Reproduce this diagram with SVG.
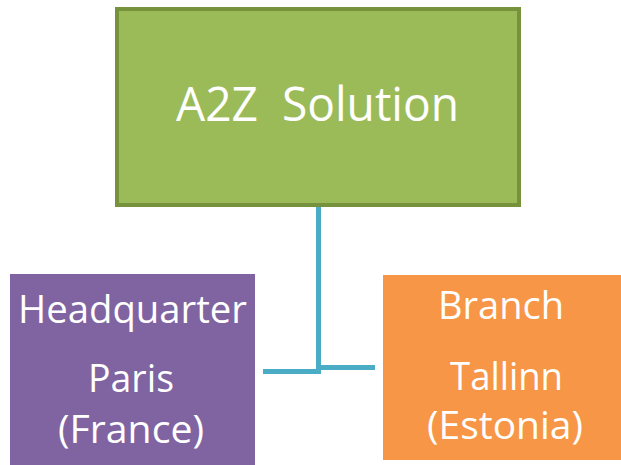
<svg xmlns="http://www.w3.org/2000/svg" width="621" height="465" viewBox="0 0 621 465">
  <style>
    .lbl { fill: #ffffff; font-family: "Open Sans", "Liberation Sans", sans-serif; text-anchor: middle; white-space: pre; }
    .big { font-size: 47px; }
    .mid { font-size: 37.5px; }
    .conn { stroke: #4BACC6; stroke-width: 5; fill: none; }
  </style>
  <rect width="621" height="465" fill="#ffffff"/>
  <!-- connectors -->
  <g id="connectors">
    <path class="conn" d="M318.5 207 V371.5 H263"/>
    <path class="conn" d="M318.5 367.5 H375"/>
  </g>
  <!-- top node -->
  <g id="a2z">
    <rect x="117" y="9" width="402" height="196" fill="#9BBB59" stroke="#76923C" stroke-width="4"/>
    <text class="lbl big" x="317.5" y="121" textLength="283" lengthAdjust="spacingAndGlyphs" xml:space="preserve">A2Z  Solution</text>
  </g>
  <!-- headquarter node -->
  <g id="headquarter">
    <rect x="10" y="274" width="245" height="191" fill="#8064A2"/>
    <text class="lbl mid" x="132.5" y="323" textLength="229" lengthAdjust="spacingAndGlyphs">Headquarter</text>
    <text class="lbl mid" x="131" y="392" textLength="86" lengthAdjust="spacingAndGlyphs">Paris</text>
    <text class="lbl mid" x="131" y="443" textLength="146" lengthAdjust="spacingAndGlyphs">(France)</text>
  </g>
  <!-- branch node -->
  <g id="branch">
    <rect x="383" y="275" width="238" height="185" fill="#F79646"/>
    <text class="lbl mid" x="501" y="319" textLength="126" lengthAdjust="spacingAndGlyphs">Branch</text>
    <text class="lbl mid" x="506.5" y="390" textLength="113" lengthAdjust="spacingAndGlyphs">Tallinn</text>
    <text class="lbl mid" x="505" y="439" textLength="156" lengthAdjust="spacingAndGlyphs">(Estonia)</text>
  </g>
</svg>
